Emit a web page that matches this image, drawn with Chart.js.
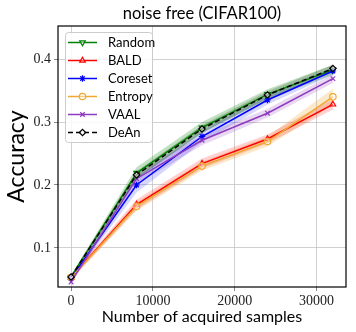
<!DOCTYPE html>
<html>
<head>
<meta charset="utf-8">
<script src="https://cdn.jsdelivr.net/npm/chart.js@4.4.1/dist/chart.umd.min.js"></script>
<style>
  html, body { margin: 0; padding: 0; background: #fff; }
  #wrap { width: 356px; height: 332px; }
</style>
</head>
<body>
<div id="wrap"><canvas id="acc-chart" width="356" height="332"></canvas></div>
<script>
'use strict';

// x positions (number of acquired samples)
const samples = [0, 8000, 16000, 24000, 32000];

// mean accuracy per method
const randomAcc  = [0.054, 0.219, 0.291, 0.344, 0.383];
const baldAcc    = [0.053, 0.169, 0.234, 0.273, 0.328];
const coresetAcc = [0.052, 0.200, 0.277, 0.335, 0.381];
const entropyAcc = [0.053, 0.166, 0.230, 0.269, 0.340];
const vaalAcc    = [0.046, 0.210, 0.271, 0.314, 0.369];
const deanAcc    = [0.054, 0.216, 0.289, 0.343, 0.385];

// spread (half-width of shaded band)
const randomStd  = [0.003, 0.009, 0.009, 0.008, 0.008];
const baldStd    = [0.003, 0.008, 0.008, 0.007, 0.008];
const coresetStd = [0.003, 0.012, 0.009, 0.007, 0.006];
const entropyStd = [0.003, 0.007, 0.007, 0.008, 0.013];
const vaalStd    = [0.003, 0.009, 0.008, 0.007, 0.007];
const deanStd    = [0.003, 0.006, 0.006, 0.006, 0.006];

const xTicks = [0, 10000, 20000, 30000];
const yTicks = [0.1, 0.2, 0.3, 0.4];

const TITLE = 'noise free (CIFAR100)';
const SANS  = "Lato, 'Open Sans', sans-serif";
const SERIF = "'Liberation Serif', 'DejaVu Serif', serif";

const series = [
  { label: 'Random',  mean: randomAcc,  std: randomStd,  color: '#008000', band: 'rgba(0,128,0,0.24)',    style: 'triangle', rot: 180, fill: 'rgba(255,255,255,0.6)' },
  { label: 'BALD',    mean: baldAcc,    std: baldStd,    color: '#ff0000', band: 'rgba(255,0,0,0.18)',    style: 'triangle', rot: 0,   fill: 'rgba(255,255,255,0.4)' },
  { label: 'Coreset', mean: coresetAcc, std: coresetStd, color: '#0000ff', band: 'rgba(0,0,255,0.16)',    style: 'star',     rot: 0,   fill: '#0000ff' },
  { label: 'Entropy', mean: entropyAcc, std: entropyStd, color: '#f0a830', band: 'rgba(240,168,48,0.25)', style: 'circle',   rot: 0,   fill: 'rgba(255,255,255,0.4)' },
  { label: 'VAAL',    mean: vaalAcc,    std: vaalStd,    color: '#8e3bbf', band: 'rgba(142,59,191,0.2)',  style: 'crossRot', rot: 0,   fill: '#8e3bbf' },
  { label: 'DeAn',    mean: deanAcc,    std: deanStd,    color: '#000000', band: 'rgba(0,0,0,0.2)',       style: 'rectRot',  rot: 0,   fill: 'rgba(255,255,255,0.6)', dash: [5, 3] },
];

const pts = arr => samples.map((x, i) => ({ x, y: arr[i] }));

const datasets = [];
// shaded bands first (upper + lower filled to upper)
series.forEach(s => {
  const upIdx = datasets.length;
  datasets.push({
    label: s.label + ' hi', data: pts(s.mean.map((m, i) => m + s.std[i])),
    borderWidth: 0, pointRadius: 0, fill: false, order: 10,
  });
  datasets.push({
    label: s.label + ' lo', data: pts(s.mean.map((m, i) => m - s.std[i])),
    borderWidth: 0, pointRadius: 0, fill: { target: upIdx }, backgroundColor: s.band, order: 10,
  });
});
// mean lines
series.forEach((s, k) => {
  datasets.push({
    label: s.label, data: pts(s.mean),
    borderColor: s.color, borderWidth: 1.5, borderDash: s.dash || [],
    pointStyle: s.style, pointRotation: s.rot, pointRadius: 3.2,
    pointBorderColor: s.color, pointBackgroundColor: s.fill, pointBorderWidth: 1.2,
    fill: false, tension: 0, order: 6 - k,
  });
});

// title over the plot, frame around it, legend box inside the axes
const framePlugin = {
  id: 'frame',
  afterDatasetsDraw(chart) {
    const { ctx, chartArea: a } = chart;
    ctx.save();
    ctx.strokeStyle = '#000';
    ctx.lineWidth = 1.2;
    ctx.strokeRect(a.left, a.top, a.right - a.left, a.bottom - a.top);

    ctx.fillStyle = '#000';
    ctx.font = '16.5px ' + SANS;
    ctx.textAlign = 'center';
    ctx.textBaseline = 'middle';
    ctx.fillText(TITLE, (a.left + a.right) / 2, 14);

    // legend
    const bx = 65, by = 32, bw = 87, bh = 110, r = 3;
    ctx.fillStyle = 'rgba(255,255,255,0.85)';
    ctx.strokeStyle = '#cccccc';
    ctx.lineWidth = 1;
    ctx.beginPath();
    ctx.roundRect(bx + 0.5, by + 0.5, bw, bh, r);
    ctx.fill();
    ctx.stroke();

    series.forEach((s, i) => {
      const y = 42.5 + i * 18;
      ctx.strokeStyle = s.color;
      ctx.lineWidth = 1.5;
      ctx.setLineDash(s.dash || []);
      ctx.beginPath();
      ctx.moveTo(68, y);
      ctx.lineTo(97, y);
      ctx.stroke();
      ctx.setLineDash([]);
      ctx.fillStyle = s.fill;
      ctx.strokeStyle = s.color;
      ctx.lineWidth = 1.2;
      Chart.helpers.drawPoint(ctx, { pointStyle: s.style, radius: 3.2, rotation: s.rot, borderWidth: 1.2 }, 82.5, y);
      ctx.fillStyle = '#000';
      ctx.font = '13px ' + SANS;
      ctx.textBaseline = 'middle';
      ctx.textAlign = 'left';
      ctx.fillText(s.label, 108, y);
    });
    ctx.restore();
  }
};

new Chart(document.getElementById('acc-chart'), {
  type: 'line',
  data: { datasets },
  plugins: [framePlugin],
  options: {
    responsive: false,
    animation: false,
    devicePixelRatio: 1,
    layout: { padding: { left: 0, right: 10, top: 26, bottom: 0 } },
    plugins: {
      legend: { display: false },
      tooltip: { enabled: false },
      title: { display: false },
    },
    scales: {
      x: {
        type: 'linear',
        min: -1600, max: 33600,
        afterBuildTicks: s => { s.ticks = xTicks.map(v => ({ value: v })); },
        afterFit: s => { s.height = 45; },
        grid: { color: 'rgba(190,190,190,0.7)', lineWidth: 1, tickLength: 4, tickColor: '#888' },
        border: { display: false },
        ticks: {
          color: '#222', padding: 2, maxRotation: 0,
          font: { family: SERIF, size: 14 },
          callback: v => String(v),
        },
        title: {
          display: true, text: 'Number of acquired samples', color: '#000',
          font: { family: SANS, size: 16 },
          padding: { top: 0, bottom: 6 },
        },
      },
      y: {
        min: 0.038, max: 0.4525,
        afterBuildTicks: s => { s.ticks = yTicks.map(v => ({ value: v })); },
        afterFit: s => { s.width = 58; },
        grid: { color: 'rgba(190,190,190,0.7)', lineWidth: 1, tickLength: 4, tickColor: '#888' },
        border: { display: false },
        ticks: {
          color: '#222', padding: 3,
          font: { family: SERIF, size: 14 },
          callback: v => v.toFixed(1),
        },
        title: {
          display: true, text: 'Accuracy', color: '#000',
          font: { family: SANS, size: 23 },
          padding: { top: 3, bottom: 0 },
        },
      },
    },
  },
});
</script>
</body>
</html>
